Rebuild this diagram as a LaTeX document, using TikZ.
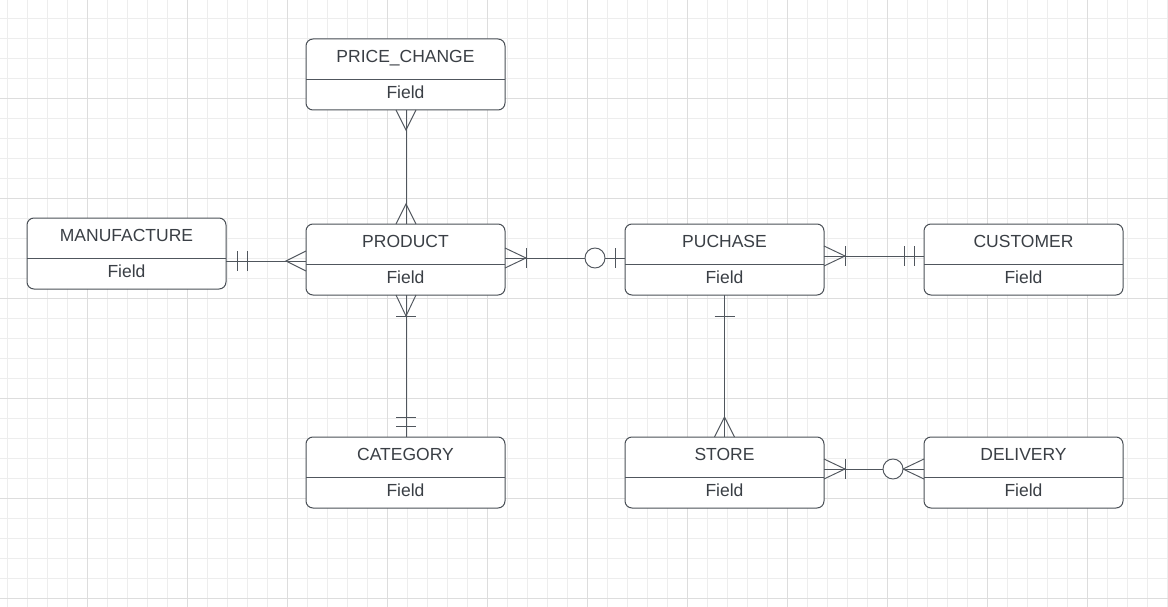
\documentclass[tikz,border=0pt]{standalone}
\usepackage{fontspec}
\setmainfont{Liberation Sans}
\usetikzlibrary{calc}
\definecolor{ln}{HTML}{4A5057}
\definecolor{cn}{HTML}{50565D}
\definecolor{tx}{HTML}{3A3F45}
\definecolor{gmin}{HTML}{EDEDED}
\definecolor{gmaj}{HTML}{DDDDDD}
\newcommand\erent[4]{%
  \node[ent, anchor=north west] (#1) at (#2,#3) {};
  \draw[conn] ($(#1.north west)+(0,40)$) -- ($(#1.north east)+(0,40)$);
  \node[lbl] (#1-t) at ($(#1.north)+(0,23.7)$) {#4};
  \node[lbl] (#1-f) at ($(#1.north)+(0,59.3)$) {Field};
}
\begin{document}
\begin{tikzpicture}[x=1pt,y=-1pt,
  ent/.style={draw=ln, line width=1pt, rounded corners=7pt, minimum width=199pt, minimum height=71pt, inner sep=0pt, outer sep=0pt, fill=white},
  lbl/.style={text=tx, font=\fontsize{17.5}{20}\selectfont, anchor=base, inner sep=0pt},
  conn/.style={draw=cn, line width=0.95pt},
  gminor/.style={draw=gmin, line width=1pt},
  gmajor/.style={draw=gmaj, line width=1pt}]
\useasboundingbox[fill=white] (0,0) rectangle (1168,607);
% grid
\foreach \x in {7.5,27.5,...,1167.5} \draw[gminor] (\x,0) -- (\x,607);
\foreach \y in {18.5,38.5,...,606.5} \draw[gminor] (0,\y) -- (1168,\y);
\foreach \x in {87.5,187.5,...,1167.5} \draw[gmajor] (\x,0) -- (\x,607);
\foreach \y in {98.5,198.5,...,598.5} \draw[gmajor] (0,\y) -- (1168,\y);
% entities
\erent{pc}{306}{39}{PRICE\_CHANGE}
\erent{man}{27}{218}{MANUFACTURE}
\erent{prod}{306}{224}{PRODUCT}
\erent{pur}{625}{224}{PUCHASE}
\erent{cust}{924}{224}{CUSTOMER}
\erent{cat}{306}{437}{CATEGORY}
\erent{store}{625}{437}{STORE}
\erent{del}{924}{437}{DELIVERY}
% 1 manufacture - product
\coordinate (c1a) at ($(man.east)+(0,7.5)$);
\coordinate (c1b) at ($(prod.west)+(0,1.5)$);
\draw[conn] (c1a) -- (c1b);
\draw[conn] ($(c1a)+(11,-10)$) -- ($(c1a)+(11,10)$);
\draw[conn] ($(c1a)+(21,-10)$) -- ($(c1a)+(21,10)$);
\draw[conn] ($(c1b)+(0,-10)$) -- ($(c1b)+(-20,0)$) -- ($(c1b)+(0,10)$);
% 2 product - puchase
\coordinate (c2a) at ($(prod.east)+(0,-1.5)$);
\coordinate (c2b) at ($(pur.west)+(0,-1.5)$);
\draw[conn] (c2a) -- (c2b);
\draw[conn] ($(c2a)+(0,-10)$) -- ($(c2a)+(21,0)$) -- ($(c2a)+(0,10)$);
\draw[conn] ($(c2a)+(21,-10)$) -- ($(c2a)+(21,10)$);
\draw[conn] ($(c2b)+(-10,-10)$) -- ($(c2b)+(-10,10)$);
\draw[conn, fill=white] ($(c2b)+(-30,0)$) circle[radius=10];
% 3 puchase - customer
\coordinate (c3a) at ($(pur.east)+(0,-3.5)$);
\coordinate (c3b) at ($(cust.west)+(0,-3.5)$);
\draw[conn] (c3a) -- (c3b);
\draw[conn] ($(c3a)+(0,-10)$) -- ($(c3a)+(21,0)$) -- ($(c3a)+(0,10)$);
\draw[conn] ($(c3a)+(21,-10)$) -- ($(c3a)+(21,10)$);
\draw[conn] ($(c3b)+(-10,-10)$) -- ($(c3b)+(-10,10)$);
\draw[conn] ($(c3b)+(-20,-10)$) -- ($(c3b)+(-20,10)$);
% 4 price_change - product
\coordinate (c4a) at ($(pc.south)+(0.5,0)$);
\coordinate (c4b) at ($(prod.north)+(0.5,0)$);
\draw[conn] (c4a) -- (c4b);
\draw[conn] ($(c4a)+(-10,0)$) -- ($(c4a)+(0,20)$) -- ($(c4a)+(10,0)$);
\draw[conn] ($(c4b)+(-10,0)$) -- ($(c4b)+(0,-20)$) -- ($(c4b)+(10,0)$);
% 5 product - category
\coordinate (c5a) at ($(prod.south)+(0.5,0)$);
\coordinate (c5b) at ($(cat.north)+(0.5,0)$);
\draw[conn] (c5a) -- (c5b);
\draw[conn] ($(c5a)+(-10,0)$) -- ($(c5a)+(0,21)$) -- ($(c5a)+(10,0)$);
\draw[conn] ($(c5a)+(-10,21)$) -- ($(c5a)+(10,21)$);
\draw[conn] ($(c5b)+(-10,-11)$) -- ($(c5b)+(10,-11)$);
\draw[conn] ($(c5b)+(-10,-20)$) -- ($(c5b)+(10,-20)$);
% 6 puchase - store
\coordinate (c6a) at (pur.south);
\coordinate (c6b) at (store.north);
\draw[conn] (c6a) -- (c6b);
\draw[conn] ($(c6a)+(-10,21)$) -- ($(c6a)+(10,21)$);
\draw[conn] ($(c6b)+(-10,0)$) -- ($(c6b)+(0,-20)$) -- ($(c6b)+(10,0)$);
% 7 store - delivery
\coordinate (c7a) at ($(store.east)+(0,-3.5)$);
\coordinate (c7b) at ($(del.west)+(0,-3.5)$);
\draw[conn] (c7a) -- (c7b);
\draw[conn] ($(c7a)+(0,-10)$) -- ($(c7a)+(21,0)$) -- ($(c7a)+(0,10)$);
\draw[conn] ($(c7a)+(21,-10)$) -- ($(c7a)+(21,10)$);
\draw[conn] ($(c7b)+(0,-10)$) -- ($(c7b)+(-21,0)$) -- ($(c7b)+(0,10)$);
\draw[conn, fill=white] ($(c7b)+(-31,0)$) circle[radius=10];
\end{tikzpicture}
\end{document}
